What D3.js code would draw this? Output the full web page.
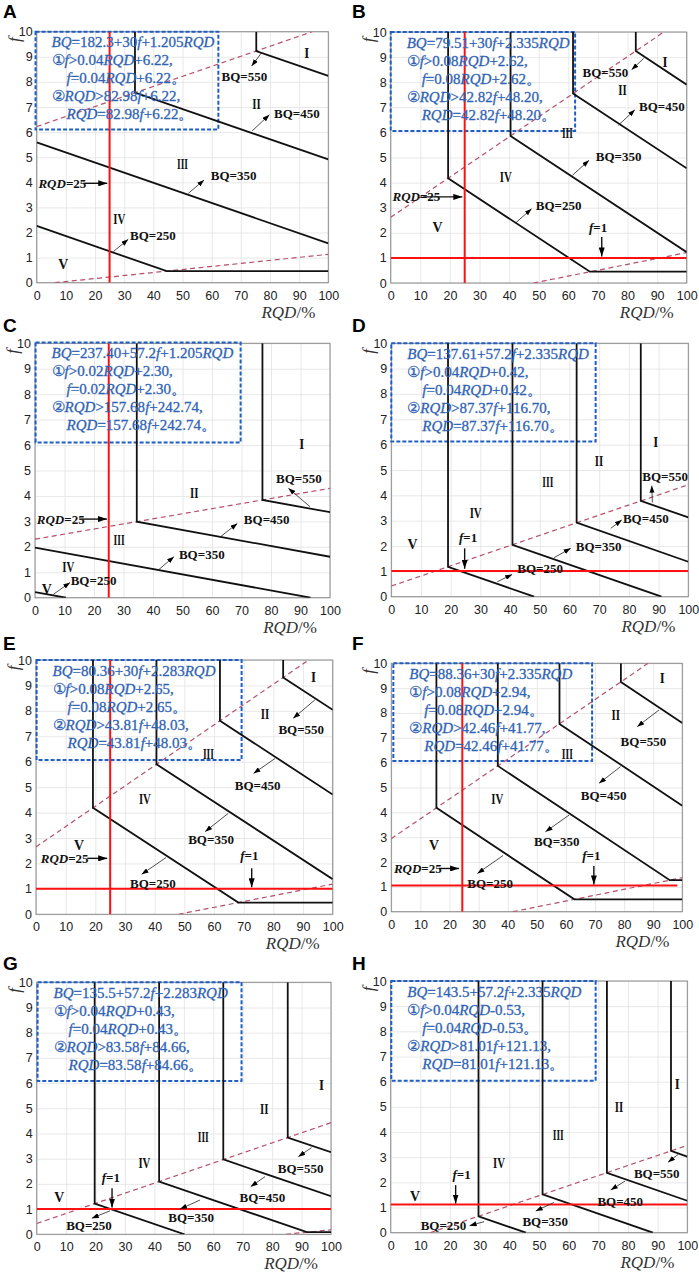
<!DOCTYPE html>
<html><head><meta charset="utf-8">
<script src="https://cdn.jsdelivr.net/npm/d3@7"></script>
<style>body{margin:0;background:#fff}svg{display:block}</style>
</head><body>
<svg id="c" width="699" height="1278"></svg>
<script>
// ---------- shared labels ----------
const panelIds = ["A","B","C","D","E","F","G","H"];
const xTicks = [0,10,20,30,40,50,60,70,80,90,100];
const yTicks = [0,1,2,3,4,5,6,7,8,9,10];
const bqNames = ["BQ=550","BQ=450","BQ=350","BQ=250"];
const zoneNames = ["I","II","III","IV","V"];

// ---------- equation box texts ----------
const eqA = ["BQ=182.3+30f+1.205RQD","①f>0.04RQD+6.22,","f=0.04RQD+6.22。","②RQD>82.98f+6.22,","RQD=82.98f+6.22。"];
const eqB = ["BQ=79.51+30f+2.335RQD","①f>0.08RQD+2.62,","f=0.08RQD+2.62。","②RQD>42.82f+48.20,","RQD=42.82f+48.20。"];
const eqC = ["BQ=237.40+57.2f+1.205RQD","①f>0.02RQD+2.30,","f=0.02RQD+2.30。","②RQD>157.68f+242.74,","RQD=157.68f+242.74。"];
const eqD = ["BQ=137.61+57.2f+2.335RQD","①f>0.04RQD+0.42,","f=0.04RQD+0.42。","②RQD>87.37f+116.70,","RQD=87.37f+116.70。"];
const eqE = ["BQ=80.36+30f+2.283RQD","①f>0.08RQD+2.65,","f=0.08RQD+2.65。","②RQD>43.81f+48.03,","RQD=43.81f+48.03。"];
const eqF = ["BQ=88.36+30f+2.335RQD","①f>0.08RQD+2.94,","f=0.08RQD+2.94。","②RQD>42.46f+41.77,","RQD=42.46f+41.77。"];
const eqG = ["BQ=135.5+57.2f+2.283RQD","①f>0.04RQD+0.43,","f=0.04RQD+0.43。","②RQD>83.58f+84.66,","RQD=83.58f+84.66。"];
const eqH = ["BQ=143.5+57.2f+2.335RQD","①f>0.04RQD-0.53,","f=0.04RQD-0.53。","②RQD>81.01f+121.13,","RQD=81.01f+121.13。"];

// ---------- dashed boundary lines (RQD, f) ----------
const boundsA = [[[0,6.22],[94.5,10]],[[6.22,0],[100,1.13]]];
const boundsB = [[[0,2.62],[92.25,10]],[[48.2,0],[100,1.21]]];
const boundsC = [[[0,2.30],[100,4.30]]];
const boundsD = [[[0,0.42],[100,4.42]]];
const boundsE = [[[0,2.65],[91.9,10]],[[48.03,0],[100,1.19]]];
const boundsF = [[[0,2.94],[88.25,10]],[[41.77,0],[100,1.37]]];
const boundsG = [[[0,0.43],[100,4.43]],[[84.66,0],[100,0.18]]];
const boundsH = [[[13.25,0],[100,3.47]]];

// ---------- BQ iso-lines: 550, 450, 350, 250 ----------
const bqA = [[[75.3,10],[75.3,9.23],[100,8.24]],[[33.7,10],[33.7,7.57],[100,4.91]],[[0,5.59],[100,1.57]],[[0,2.26],[44.6,0.46],[100,0.46]]];
const bqB = [[[82.8,10],[82.8,9.24],[100,7.9]],[[61.6,10],[61.6,7.55],[100,4.57]],[[40.5,10],[40.5,5.86],[100,1.23]],[[19.4,10],[19.4,4.17],[67.3,0.45],[100,0.45]]];
const bqC = [[[77.1,10],[77.1,3.84],[100,3.36]],[[34.5,10],[34.5,2.99],[100,1.61]],[[0,1.97],[93.4,0]],[[0,0.22],[10.5,0]]];
const bqD = [[[84,10],[84,3.78],[100,3.13]],[[62.4,10],[62.4,2.92],[100,1.38]],[[40.8,10],[40.8,2.05],[91,0]],[[19.1,10],[19.1,1.18],[48.1,0]]];
const bqE = [[[83.3,10],[83.3,9.31],[100,8.04]],[[62,10],[62,7.61],[100,4.71]],[[40.6,10],[40.6,5.9],[100,1.38]],[[19.2,10],[19.2,4.19],[68.2,0.46],[100,0.46]]];
const bqF = [[[78.9,10],[78.9,9.25],[100,7.6]],[[57.8,10],[57.8,7.56],[100,4.27]],[[36.6,10],[36.6,5.87],[95.7,1.27],[100,1.27]],[[15.5,10],[15.5,4.18],[62.9,0.5],[100,0.5]]];
const bqG = [[[85.3,10],[85.3,3.84],[100,3.26]],[[63.4,10],[63.4,2.97],[100,1.51]],[[41.6,10],[41.6,2.09],[91.8,0.09],[100,0.09]],[[19.7,10],[19.7,1.22],[50.2,0]]];
const bqH = [[[94.5,10],[94.5,3.25],[100,3.02]],[[72.9,10],[72.9,2.38],[100,1.27]],[[51.2,10],[51.2,1.52],[88.4,0]],[[29.6,10],[29.6,0.65],[45.6,0]]];

// ---------- red reference lines (RQD=25, f=1) ----------
const redA = [[[25,0],[25,10]]];
const redB = [[[25,0],[25,10]],[[0,1],[100,1]]];
const redC = [[[25,0],[25,10]]];
const redD = [[[0,1.01],[100,1.01]]];
const redE = [[[25,0],[25,10]],[[0,1],[100,1]]];
const redF = [[[24.4,0],[24.4,10]],[[0,1.05],[98.3,1.05]]];
const redG = [[[0,1],[100,1]]];
const redH = [[[0,1.12],[100,1.12]]];

// ---------- zone label anchors I..V ----------
const zonesA = [[92.6,9.16],[75.4,7.14],[50,4.75],[28.3,2.56],[9.1,0.77]];
const zonesB = [[92.7,8.8],[78.3,7.68],[59.7,6.0],[38.9,4.22],[15.8,2.23]];
const zonesC = [[90.4,6.07],[54,4.13],[28.5,2.29],[11.3,1.22],[4,0.34]];
const zonesD = [[89,6.12],[69.9,5.36],[52.7,4.54],[28.4,3.33],[7.1,2.07]];
const zonesE = [[93.5,9.34],[77.2,7.9],[58.1,6.33],[36.7,4.56],[14.5,2.74]];
const zonesF = [[93.1,9.4],[77.1,7.92],[60.5,6.34],[36.4,4.54],[14.7,2.68]];
const zonesG = [[96.8,5.93],[77.3,5.0],[56.6,3.88],[36.6,2.82],[7.7,1.49]];
const zonesH = [[96.6,5.93],[77,5.0],[56.5,3.88],[36.5,2.79],[8.2,1.47]];

// ---------- BQ label anchors (text start) ----------
const bqTextA = [[63.4,8.23],[81.4,6.75],[59.7,4.29],[32,1.9]];
const bqTextB = [[64.8,8.4],[83.9,7.04],[69.3,5.05],[49,3.09]];
const bqTextC = [[81.7,4.67],[70.8,3.09],[48.8,1.7],[12.1,0.68]];
const bqTextD = [[84.5,4.74],[78,3.09],[62.1,2.0],[42.4,1.12]];
const bqTextE = [[81.7,7.25],[67,5.05],[51.3,2.96],[31.7,1.22]];
const bqTextF = [[78.8,6.87],[65.1,4.7],[49,2.82],[26.1,1.14]];
const bqTextG = [[81.9,2.62],[68.9,1.47],[44.7,0.67],[10,0.34]];
const bqTextH = [[82,2.36],[69.7,1.23],[44.4,0.46],[10.1,0.28]];

// ---------- BQ arrows (tail, head) ----------
const bqArrowA = [[[77.1,9.16],[73.7,8.63]],[[73.9,6.05],[79.8,6.69]],[[52,3.56],[57.4,4.09]],[[26.3,1.24],[31.4,1.73]]];
const bqArrowB = [[[85.5,8.95],[81.4,8.5]],[[76.9,6.28],[82.5,6.9]],[[61.4,4.29],[67,4.89]],[[42.2,2.39],[47.6,2.96]]];
const bqArrowC = [[[93.2,3.58],[85.9,4.3]],[[62.9,2.4],[68.6,2.92]],[[41.8,1.09],[47.1,1.61]],[[6.2,0.13],[11.9,0.6]]];
const bqArrowD = [[[87.9,3.72],[87.7,4.38]],[[73.9,2.7],[77.6,3.03]],[[54.8,1.54],[60.4,1.91]],[[35.7,0.59],[40.7,0.88]]];
const bqArrowE = [[[94,8.43],[86.7,7.71]],[[80.6,6.13],[73.3,5.54]],[[64.8,3.97],[57,3.25]],[[43.8,2.23],[35.6,1.57]]];
const bqArrowF = [[[92,8.12],[84.5,7.45]],[[78.8,5.84],[71.4,5.17]],[[61.1,3.89],[53,3.22]],[[38.4,2.26],[29.6,1.54]]];
const bqArrowG = [[[93.4,3.44],[88.9,3.08]],[[77.6,2.29],[72.7,1.89]],[[55.5,1.36],[48.7,1.0]],[[24.9,0.93],[18.7,0.64]]];
const bqArrowH = [[[97,3.12],[93.5,2.8]],[[79,2.05],[74.2,1.7]],[[55,1.2],[48.9,0.86]],[[31.5,0.44],[26.6,0.28]]];

// ---------- notes: text, text start, arrow tail, arrow head ----------
const notesA = [["RQD=25",[0.6,3.96],[16,3.96],[24.2,3.96]]];
const notesB = [["RQD=25",[0.6,3.43],[11,3.43],[24.2,3.43]],["f=1",[67,2.23],[71.3,1.83],[71.3,1.06]]];
const notesC = [["RQD=25",[0.6,3.09],[15.3,3.09],[24.4,3.09]]];
const notesD = [["f=1",[22.8,2.33],[24.7,1.91],[24.7,1.1]]];
const notesE = [["RQD=25",[1.6,2.2],[17.3,2.2],[24,2.2]],["f=1",[68.8,2.33],[72.7,1.81],[72.7,1.06]]];
const notesF = [["RQD=25",[0.9,1.74],[16.4,1.74],[23.3,1.74]],["f=1",[65.6,2.28],[69.6,1.84],[69.6,1.1]]];
const notesG = [["f=1",[22.1,2.25],[25.6,1.83],[25.6,1.06]]];
const notesH = [["f=1",[20.8,2.32],[21.9,1.89],[21.9,1.16]]];

// ---------- equation box extents [RQD0, fTop, RQD1, fBottom] ----------
const boxA = [-0.4,10,62.3,6.1];
const boxB = [0,10,62.3,6.06];
const boxC = [0.2,10.03,69.7,6.1];
const boxD = [0,10,68.8,6.12];
const boxE = [0.2,10,69.3,6.07];
const boxF = [0.7,10,69,6.07];
const boxG = [0.3,10,69.6,6.08];
const boxH = [0.2,10,69.1,6.04];

// ---------- page layout (pixel frames of each plot area) ----------
const frames = [
  [36.7,31.7,328.3,282.7],[390.7,32,686.7,283],
  [35,343.3,330,597.7],[391.3,343.3,688.3,596.7],
  [36,660,332.7,914.3],[391.3,663.3,682.3,911.7],
  [36.7,982.3,331,1234.3],[390.7,981,687.3,1232.7]
];
const letterPos = [[3,18],[352,18],[3,332],[352,332],[3,650],[352,650],[3,970],[352,970]];

const panels = panelIds.map((id,i)=>({
  id,
  eq:[eqA,eqB,eqC,eqD,eqE,eqF,eqG,eqH][i],
  bounds:[boundsA,boundsB,boundsC,boundsD,boundsE,boundsF,boundsG,boundsH][i],
  bq:[bqA,bqB,bqC,bqD,bqE,bqF,bqG,bqH][i],
  red:[redA,redB,redC,redD,redE,redF,redG,redH][i],
  zones:[zonesA,zonesB,zonesC,zonesD,zonesE,zonesF,zonesG,zonesH][i],
  bqText:[bqTextA,bqTextB,bqTextC,bqTextD,bqTextE,bqTextF,bqTextG,bqTextH][i],
  bqArrow:[bqArrowA,bqArrowB,bqArrowC,bqArrowD,bqArrowE,bqArrowF,bqArrowG,bqArrowH][i],
  notes:[notesA,notesB,notesC,notesD,notesE,notesF,notesG,notesH][i],
  box:[boxA,boxB,boxC,boxD,boxE,boxF,boxG,boxH][i]
}));

const SERIF = "'Liberation Serif','Times New Roman',serif";
const SANS = "'Liberation Sans',Arial,sans-serif";
const zoneWidth = {"I":5,"II":8.5,"III":11,"IV":12,"V":10};

const svg = d3.select("#c");
const defs = svg.append("defs");
function mk(id,w,h){
  defs.append("marker").attr("id",id).attr("viewBox",`0 ${-h/2} ${w} ${h}`)
    .attr("refX",w).attr("refY",0).attr("markerWidth",w).attr("markerHeight",h)
    .attr("markerUnits","userSpaceOnUse").attr("orient","auto")
    .append("path").attr("d",`M0,${-h/2}L${w},0L0,${h/2}Z`).attr("fill","#000");
}
mk("ahs",7,5);
mk("ahb",9,6);

function rich(sel,str){
  str.split(/(BQ|RQD|f)/).filter(s=>s.length).forEach(tok=>{
    const it = /^(BQ|RQD|f)$/.test(tok);
    sel.append("tspan").attr("font-style",it?"italic":"normal").text(tok);
  });
}

panels.forEach((p,i)=>{
  const [l,t,r,b] = frames[i];
  const x = d3.scaleLinear().domain([0,100]).range([l,r]);
  const y = d3.scaleLinear().domain([0,10]).range([b,t]);
  const g = svg.append("g");
  const line = d3.line().x(d=>x(d[0])).y(d=>y(d[1]));

  g.append("clipPath").attr("id","clip"+p.id).append("rect")
    .attr("x",l).attr("y",t).attr("width",r-l).attr("height",b-t);

  // grid
  g.append("g").attr("transform",`translate(0,${b})`)
    .call(d3.axisBottom(x).tickValues(xTicks).tickSize(-(b-t)).tickFormat(""))
    .call(s=>{s.select(".domain").remove();s.selectAll("line").attr("stroke","#e2e2e2").attr("stroke-width",0.8);});
  g.append("g").attr("transform",`translate(${l},0)`)
    .call(d3.axisLeft(y).tickValues(yTicks).tickSize(-(r-l)).tickFormat(""))
    .call(s=>{s.select(".domain").remove();s.selectAll("line").attr("stroke","#e2e2e2").attr("stroke-width",0.8);});

  // tick labels
  g.append("g").attr("transform",`translate(0,${b})`)
    .call(d3.axisBottom(x).tickValues(xTicks).tickSize(0).tickPadding(8))
    .call(s=>{s.select(".domain").remove();s.selectAll("text").attr("font-family",SANS).attr("font-size",12.5).attr("fill","#222");});
  g.append("g").attr("transform",`translate(${l},0)`)
    .call(d3.axisLeft(y).tickValues(yTicks).tickSize(0).tickPadding(4))
    .call(s=>{s.select(".domain").remove();s.selectAll("text").attr("font-family",SANS).attr("font-size",12.5).attr("fill","#222");});

  // frame
  g.append("rect").attr("x",l).attr("y",t).attr("width",r-l).attr("height",b-t)
    .attr("fill","none").attr("stroke","#8a8a8a").attr("stroke-width",1);

  // equation box
  const bx = p.box;
  g.append("rect").attr("x",x(bx[0])).attr("y",y(bx[1])).attr("width",x(bx[2])-x(bx[0])).attr("height",y(bx[3])-y(bx[1]))
    .attr("fill","none").attr("stroke","#1f5fc4").attr("stroke-width",2).attr("stroke-dasharray","4,2");

  const plot = g.append("g").attr("clip-path",`url(#clip${p.id})`);
  plot.selectAll(".bd").data(p.bounds).join("path").attr("d",line)
    .attr("fill","none").attr("stroke","#b5506a").attr("stroke-width",1.2).attr("stroke-dasharray","5,3.5");
  plot.selectAll(".bq").data(p.bq).join("path").attr("d",line)
    .attr("fill","none").attr("stroke","#111").attr("stroke-width",1.8);
  plot.selectAll(".rd").data(p.red).join("path").attr("d",line)
    .attr("fill","none").attr("stroke","#ff1010").attr("stroke-width",2);

  // box text
  const tx = x(bx[0]);
  const ty = y(bx[1]);
  p.eq.forEach((s,k)=>{
    const indent = (k===2||k===4) ? 31 : 16;
    const te = g.append("text").attr("x",tx+indent).attr("y",ty+15.5+k*18)
      .attr("font-family",SERIF).attr("font-size",15).attr("fill","#2f63b4")
      .attr("stroke","#2f63b4").attr("stroke-width",0.3);
    rich(te,s);
  });

  // zone labels
  g.selectAll(".zn").data(p.zones).join("text")
    .attr("x",d=>x(d[0])).attr("y",d=>y(d[1])).attr("dy","0.35em")
    .attr("text-anchor","middle").attr("font-family",SERIF).attr("font-weight","bold").attr("font-size",15)
    .attr("textLength",(d,k)=>zoneWidth[zoneNames[k]]).attr("lengthAdjust","spacingAndGlyphs")
    .attr("fill","#111").text((d,k)=>zoneNames[k]);

  // BQ labels
  g.selectAll(".bt").data(p.bqText).join("text")
    .attr("x",d=>x(d[0])).attr("y",d=>y(d[1])).attr("dy","0.35em")
    .attr("font-family",SERIF).attr("font-weight","bold").attr("font-size",13).attr("fill","#111")
    .text((d,k)=>bqNames[k]);
  g.selectAll(".ba").data(p.bqArrow).join("path").attr("d",line)
    .attr("stroke","#222").attr("stroke-width",0.8).attr("fill","none").attr("marker-end","url(#ahs)");

  // notes
  p.notes.forEach(n=>{
    const te = g.append("text").attr("x",x(n[1][0])).attr("y",y(n[1][1])).attr("dy","0.35em")
      .attr("font-family",SERIF).attr("font-weight","bold").attr("font-size",13).attr("fill","#111");
    rich(te,n[0]);
    g.append("path").attr("d",line([n[2],n[3]])).attr("stroke","#111").attr("stroke-width",1.4)
      .attr("fill","none").attr("marker-end","url(#ahb)");
  });

  // axis titles
  g.append("text").attr("transform",`translate(${l-23},${t+8}) rotate(-90)`)
    .attr("text-anchor","middle").attr("dy","0.35em")
    .attr("font-family",SERIF).attr("font-style","italic").attr("font-size",17).attr("fill","#333").text("f");
  const xt = g.append("text").attr("x",r-13).attr("y",b+35).attr("text-anchor","end")
    .attr("font-family",SERIF).attr("font-size",17).attr("fill","#333");
  xt.append("tspan").attr("font-style","italic").text("RQD");
  xt.append("tspan").text("/%");

  svg.append("text").attr("x",letterPos[i][0]).attr("y",letterPos[i][1])
    .attr("font-family",SANS).attr("font-weight","bold").attr("font-size",19).attr("fill","#000").text(p.id);
});
</script>
</body></html>
